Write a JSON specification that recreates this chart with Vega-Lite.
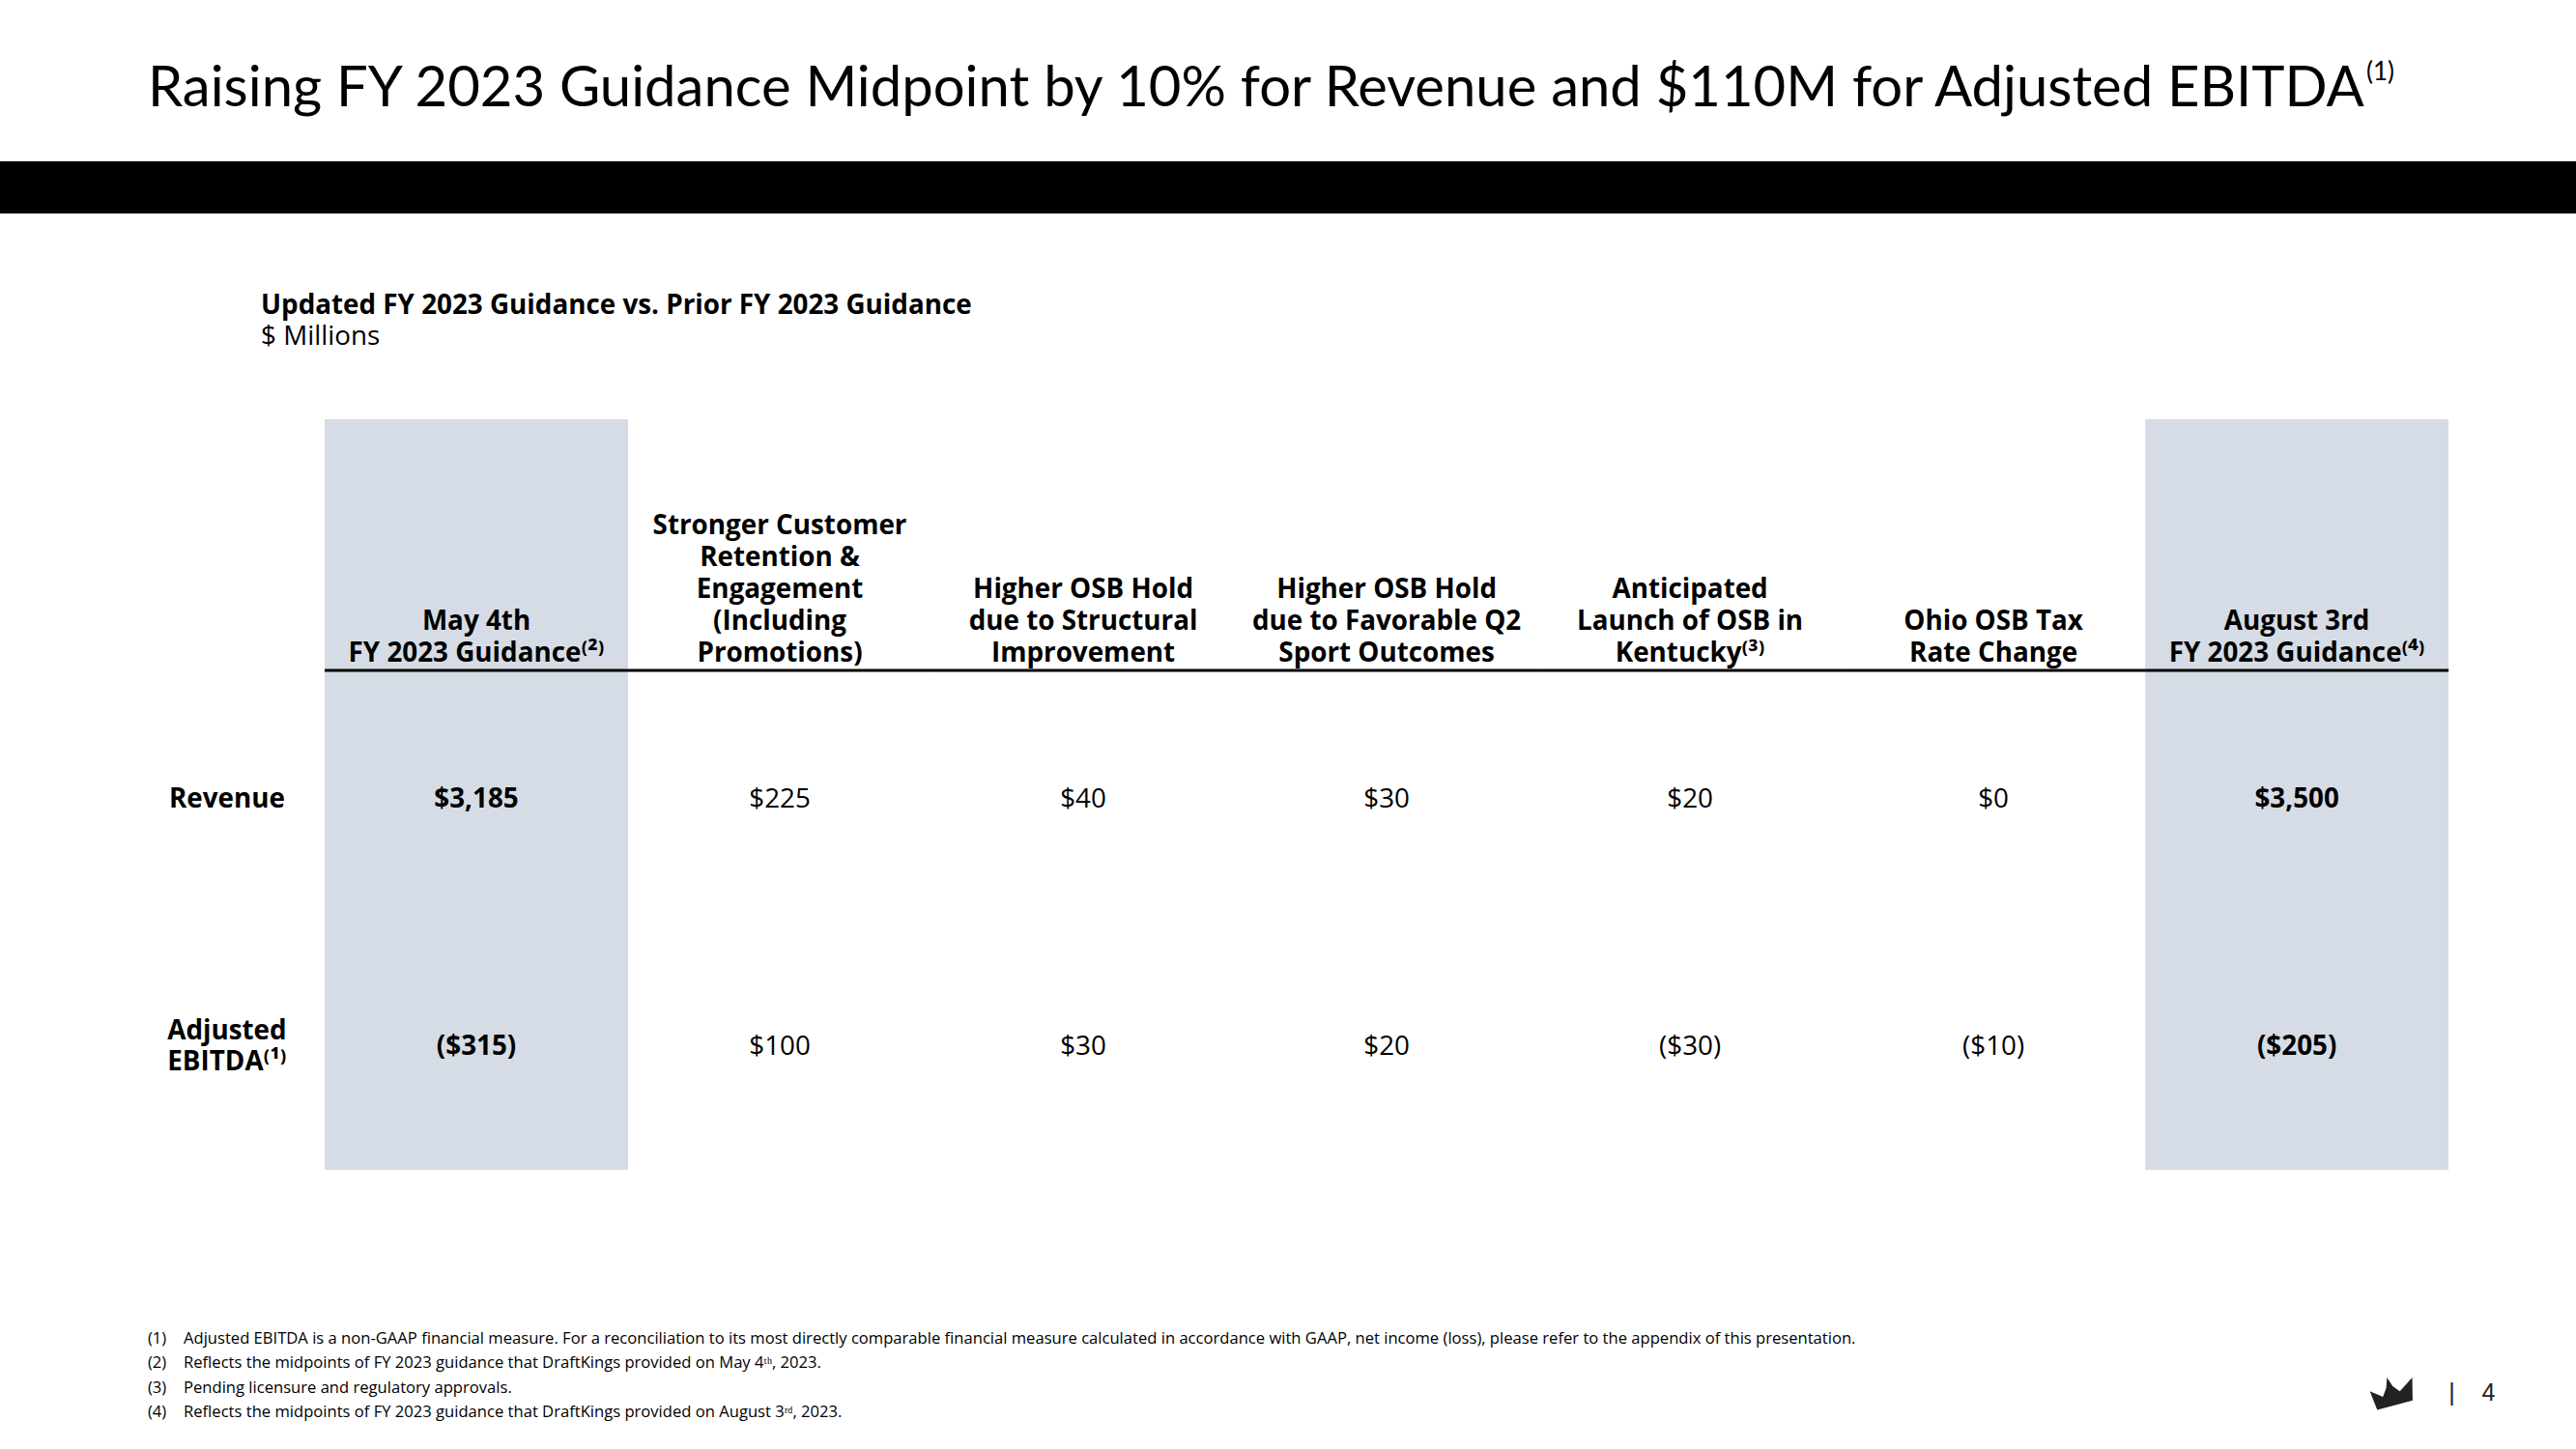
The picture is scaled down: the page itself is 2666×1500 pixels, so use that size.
{
  "$schema": "https://vega.github.io/schema/vega-lite/v6.json",
  "width": 2666,
  "height": 1500,
  "autosize": "none",
  "padding": 0,
  "background": "white",
  "config": {"view": {"stroke": null}, "font": "Open Sans", "text": {"font": "Open Sans", "color": "#000000"}},
  "datasets": {
    "steps": [
      {"step": "May 4th FY 2023 Guidance", "header": "May 4th\nFY 2023 Guidance⁽²⁾", "kind": "guidance"},
      {"step": "Stronger Customer Retention & Engagement (Including Promotions)", "header": "Stronger Customer\nRetention &\nEngagement\n(Including\nPromotions)", "kind": "driver"},
      {"step": "Higher OSB Hold due to Structural Improvement", "header": "Higher OSB Hold\ndue to Structural\nImprovement", "kind": "driver"},
      {"step": "Higher OSB Hold due to Favorable Q2 Sport Outcomes", "header": "Higher OSB Hold\ndue to Favorable Q2\nSport Outcomes", "kind": "driver"},
      {"step": "Anticipated Launch of OSB in Kentucky", "header": "Anticipated\nLaunch of OSB in\nKentucky⁽³⁾", "kind": "driver"},
      {"step": "Ohio OSB Tax Rate Change", "header": "Ohio OSB Tax\nRate Change", "kind": "driver"},
      {"step": "August 3rd FY 2023 Guidance", "header": "August 3rd\nFY 2023 Guidance⁽⁴⁾", "kind": "guidance"}
    ],
    "metrics": [
      {"metric": "Revenue", "label": "Revenue", "order": 1},
      {"metric": "Adjusted EBITDA", "label": "Adjusted\nEBITDA⁽¹⁾", "order": 2}
    ],
    "values": [
      {"step": "May 4th FY 2023 Guidance", "metric": "Revenue", "amount": 3185, "kind": "guidance"},
      {"step": "Stronger Customer Retention & Engagement (Including Promotions)", "metric": "Revenue", "amount": 225, "kind": "driver"},
      {"step": "Higher OSB Hold due to Structural Improvement", "metric": "Revenue", "amount": 40, "kind": "driver"},
      {"step": "Higher OSB Hold due to Favorable Q2 Sport Outcomes", "metric": "Revenue", "amount": 30, "kind": "driver"},
      {"step": "Anticipated Launch of OSB in Kentucky", "metric": "Revenue", "amount": 20, "kind": "driver"},
      {"step": "Ohio OSB Tax Rate Change", "metric": "Revenue", "amount": 0, "kind": "driver"},
      {"step": "August 3rd FY 2023 Guidance", "metric": "Revenue", "amount": 3500, "kind": "guidance"},
      {"step": "May 4th FY 2023 Guidance", "metric": "Adjusted EBITDA", "amount": -315, "kind": "guidance"},
      {"step": "Stronger Customer Retention & Engagement (Including Promotions)", "metric": "Adjusted EBITDA", "amount": 100, "kind": "driver"},
      {"step": "Higher OSB Hold due to Structural Improvement", "metric": "Adjusted EBITDA", "amount": 30, "kind": "driver"},
      {"step": "Higher OSB Hold due to Favorable Q2 Sport Outcomes", "metric": "Adjusted EBITDA", "amount": 20, "kind": "driver"},
      {"step": "Anticipated Launch of OSB in Kentucky", "metric": "Adjusted EBITDA", "amount": -30, "kind": "driver"},
      {"step": "Ohio OSB Tax Rate Change", "metric": "Adjusted EBITDA", "amount": -10, "kind": "driver"},
      {"step": "August 3rd FY 2023 Guidance", "metric": "Adjusted EBITDA", "amount": -205, "kind": "guidance"}
    ],
    "titles": [
      {"title": "Raising FY 2023 Guidance Midpoint by 10% for Revenue and $110M for Adjusted EBITDA", "note": "(1)", "subtitle": "Updated FY 2023 Guidance vs. Prior FY 2023 Guidance", "unit": "$ Millions", "page": "|\u00a0\u00a0\u00a0\u00a04",
       "noteNumbers": "(1)\n(2)\n(3)\n(4)",
       "noteText": "Adjusted EBITDA is a non-GAAP financial measure. For a reconciliation to its most directly comparable financial measure calculated in accordance with GAAP, net income (loss), please refer to the appendix of this presentation.\nReflects the midpoints of FY 2023 guidance that DraftKings provided on May 4ᵗʰ, 2023.\nPending licensure and regulatory approvals.\nReflects the midpoints of FY 2023 guidance that DraftKings provided on August 3ʳᵈ, 2023."}
    ]
  },
  "layer": [
    {
      "data": {"name": "titles"},
      "mark": {"type": "rect", "color": "#000000"},
      "encoding": {
        "x": {"value": 0},
        "x2": {"value": "width"},
        "y": {"datum": -1.5703, "type": "quantitative", "axis": null, "scale": {"domain": [-2.22266, 3.63672], "reverse": true, "nice": false, "zero": false}},
        "y2": {"datum": -1.3594}
      }
    },
    {
      "data": {"name": "steps"},
      "transform": [{"filter": "datum.kind === 'guidance'"}],
      "mark": {"type": "rect", "color": "#D6DCE5"},
      "encoding": {
        "x": {"field": "step", "type": "nominal", "axis": null, "scale": {"domain": ["Metric", "May 4th FY 2023 Guidance", "Stronger Customer Retention & Engagement (Including Promotions)", "Higher OSB Hold due to Structural Improvement", "Higher OSB Hold due to Favorable Q2 Sport Outcomes", "Anticipated Launch of OSB in Kentucky", "Ohio OSB Tax Rate Change", "August 3rd FY 2023 Guidance"], "paddingInner": 0, "paddingOuter": 0.245, "align": 0.143}},
        "y": {"datum": -0.5273, "type": "quantitative", "axis": null},
        "y2": {"datum": 2.5078}
      }
    },
    {
      "data": {"name": "steps"},
      "mark": {"type": "rect", "color": "#000000"},
      "encoding": {
        "x": {"field": "step", "type": "nominal", "axis": null},
        "y": {"datum": 0.4824, "type": "quantitative", "axis": null},
        "y2": {"datum": 0.4941}
      }
    },
    {
      "data": {"name": "steps"},
      "transform": [{"filter": "length(split(datum.header, '\\n')) === 2"}],
      "mark": {"type": "text", "fontWeight": "bold", "fontSize": 27.8, "lineHeight": 33, "lineBreak": "\n", "align": "center", "baseline": "alphabetic"},
      "encoding": {
        "x": {"field": "step", "type": "nominal", "axis": null},
        "y": {"datum": 0.32422, "type": "quantitative", "axis": null},
        "text": {"field": "header", "type": "nominal"}
      }
    },
    {
      "data": {"name": "steps"},
      "transform": [{"filter": "length(split(datum.header, '\\n')) === 3"}],
      "mark": {"type": "text", "fontWeight": "bold", "fontSize": 27.8, "lineHeight": 33, "lineBreak": "\n", "align": "center", "baseline": "alphabetic"},
      "encoding": {
        "x": {"field": "step", "type": "nominal", "axis": null},
        "y": {"datum": 0.19531, "type": "quantitative", "axis": null},
        "text": {"field": "header", "type": "nominal"}
      }
    },
    {
      "data": {"name": "steps"},
      "transform": [{"filter": "length(split(datum.header, '\\n')) === 5"}],
      "mark": {"type": "text", "fontWeight": "bold", "fontSize": 27.8, "lineHeight": 33, "lineBreak": "\n", "align": "center", "baseline": "alphabetic"},
      "encoding": {
        "x": {"field": "step", "type": "nominal", "axis": null},
        "y": {"datum": -0.0625, "type": "quantitative", "axis": null},
        "text": {"field": "header", "type": "nominal"}
      }
    },
    {
      "data": {"name": "values"},
      "transform": [
        {"lookup": "metric", "from": {"data": {"name": "metrics"}, "key": "metric", "fields": ["order"]}},
        {"filter": "datum.kind === 'driver'"}
      ],
      "mark": {"type": "text", "fontSize": 27.8, "align": "center", "baseline": "middle", "dy": 3},
      "encoding": {
        "x": {"field": "step", "type": "nominal", "axis": null},
        "y": {"field": "order", "type": "quantitative", "axis": null},
        "text": {"field": "amount", "type": "quantitative", "format": "($,.0f"}
      }
    },
    {
      "data": {"name": "values"},
      "transform": [
        {"lookup": "metric", "from": {"data": {"name": "metrics"}, "key": "metric", "fields": ["order"]}},
        {"filter": "datum.kind === 'guidance'"}
      ],
      "mark": {"type": "text", "fontSize": 27.8, "fontWeight": "bold", "align": "center", "baseline": "middle", "dy": 3},
      "encoding": {
        "x": {"field": "step", "type": "nominal", "axis": null},
        "y": {"field": "order", "type": "quantitative", "axis": null},
        "text": {"field": "amount", "type": "quantitative", "format": "($,.0f"}
      }
    },
    {
      "data": {"name": "metrics"},
      "transform": [{"filter": "length(split(datum.label, '\\n')) === 1"}],
      "mark": {"type": "text", "fontSize": 27.8, "fontWeight": "bold", "align": "center", "baseline": "middle", "dy": 3},
      "encoding": {
        "x": {"datum": "Metric", "type": "nominal", "bandPosition": 0.678, "axis": null},
        "y": {"field": "order", "type": "quantitative", "axis": null},
        "text": {"field": "label", "type": "nominal"}
      }
    },
    {
      "data": {"name": "metrics"},
      "transform": [{"filter": "length(split(datum.label, '\\n')) === 2"}],
      "mark": {"type": "text", "fontSize": 27.8, "fontWeight": "bold", "align": "center", "baseline": "middle", "lineBreak": "\n", "lineHeight": 32, "dy": -13},
      "encoding": {
        "x": {"datum": "Metric", "type": "nominal", "bandPosition": 0.678, "axis": null},
        "y": {"field": "order", "type": "quantitative", "axis": null},
        "text": {"field": "label", "type": "nominal"}
      }
    },
    {
      "data": {"name": "titles"},
      "mark": {"type": "text", "font": "Lato", "fontSize": 58, "align": "left", "baseline": "alphabetic"},
      "encoding": {
        "x": {"datum": "Metric", "type": "nominal", "bandPosition": 0.417, "axis": null},
        "y": {"datum": -1.793, "type": "quantitative", "axis": null},
        "text": {"field": "title", "type": "nominal"}
      }
    },
    {
      "data": {"name": "titles"},
      "mark": {"type": "text", "font": "Lato", "fontSize": 26, "align": "left", "baseline": "alphabetic"},
      "encoding": {
        "x": {"datum": "August 3rd FY 2023 Guidance", "type": "nominal", "bandPosition": 0.729, "axis": null},
        "y": {"datum": -1.898, "type": "quantitative", "axis": null},
        "text": {"field": "note", "type": "nominal"}
      }
    },
    {
      "data": {"name": "titles"},
      "mark": {"type": "text", "fontSize": 27.8, "fontWeight": "bold", "align": "left", "baseline": "alphabetic"},
      "encoding": {
        "x": {"datum": "Metric", "type": "nominal", "bandPosition": 0.79, "axis": null},
        "y": {"datum": -0.9531, "type": "quantitative", "axis": null},
        "text": {"field": "subtitle", "type": "nominal"}
      }
    },
    {
      "data": {"name": "titles"},
      "mark": {"type": "text", "fontSize": 27.8, "align": "left", "baseline": "alphabetic"},
      "encoding": {
        "x": {"datum": "Metric", "type": "nominal", "bandPosition": 0.79, "axis": null},
        "y": {"datum": -0.8281, "type": "quantitative", "axis": null},
        "text": {"field": "unit", "type": "nominal"}
      }
    },
    {
      "data": {"name": "titles"},
      "mark": {"type": "text", "fontSize": 16.6, "align": "left", "baseline": "middle", "lineBreak": "\n", "lineHeight": 25.4},
      "encoding": {
        "x": {"datum": "Metric", "type": "nominal", "bandPosition": 0.417, "axis": null},
        "y": {"datum": 3.1914, "type": "quantitative", "axis": null},
        "text": {"field": "noteNumbers", "type": "nominal"}
      }
    },
    {
      "data": {"name": "titles"},
      "mark": {"type": "text", "fontSize": 16.6, "align": "left", "baseline": "middle", "lineBreak": "\n", "lineHeight": 25.4},
      "encoding": {
        "x": {"datum": "Metric", "type": "nominal", "bandPosition": 0.535, "axis": null},
        "y": {"datum": 3.1914, "type": "quantitative", "axis": null},
        "text": {"field": "noteText", "type": "nominal"}
      }
    },
    {
      "data": {"name": "titles"},
      "mark": {"type": "text", "font": "Liberation Sans", "fontSize": 25, "align": "left", "baseline": "middle", "color": "#222222"},
      "encoding": {
        "x": {"datum": "August 3rd FY 2023 Guidance", "type": "nominal", "bandPosition": 1, "axis": null},
        "y": {"datum": 3.41, "type": "quantitative", "axis": null},
        "text": {"field": "page", "type": "nominal"}
      }
    },
    {
      "data": {"name": "titles"},
      "mark": {"type": "point", "filled": true, "color": "#222222", "opacity": 1, "size": 2116, "angle": -15, "shape": "M-0.9,0.55 L-1,-0.35 L-0.5,0.05 L-0.25,-0.3 L-0.1,-0.75 L0.05,-0.3 L0.3,0 L1,-0.45 L0.75,0.55 Z"},
      "encoding": {
        "x": {"datum": "August 3rd FY 2023 Guidance", "type": "nominal", "bandPosition": 0.818, "axis": null},
        "y": {"datum": 3.41, "type": "quantitative", "axis": null}
      }
    }
  ]
}
